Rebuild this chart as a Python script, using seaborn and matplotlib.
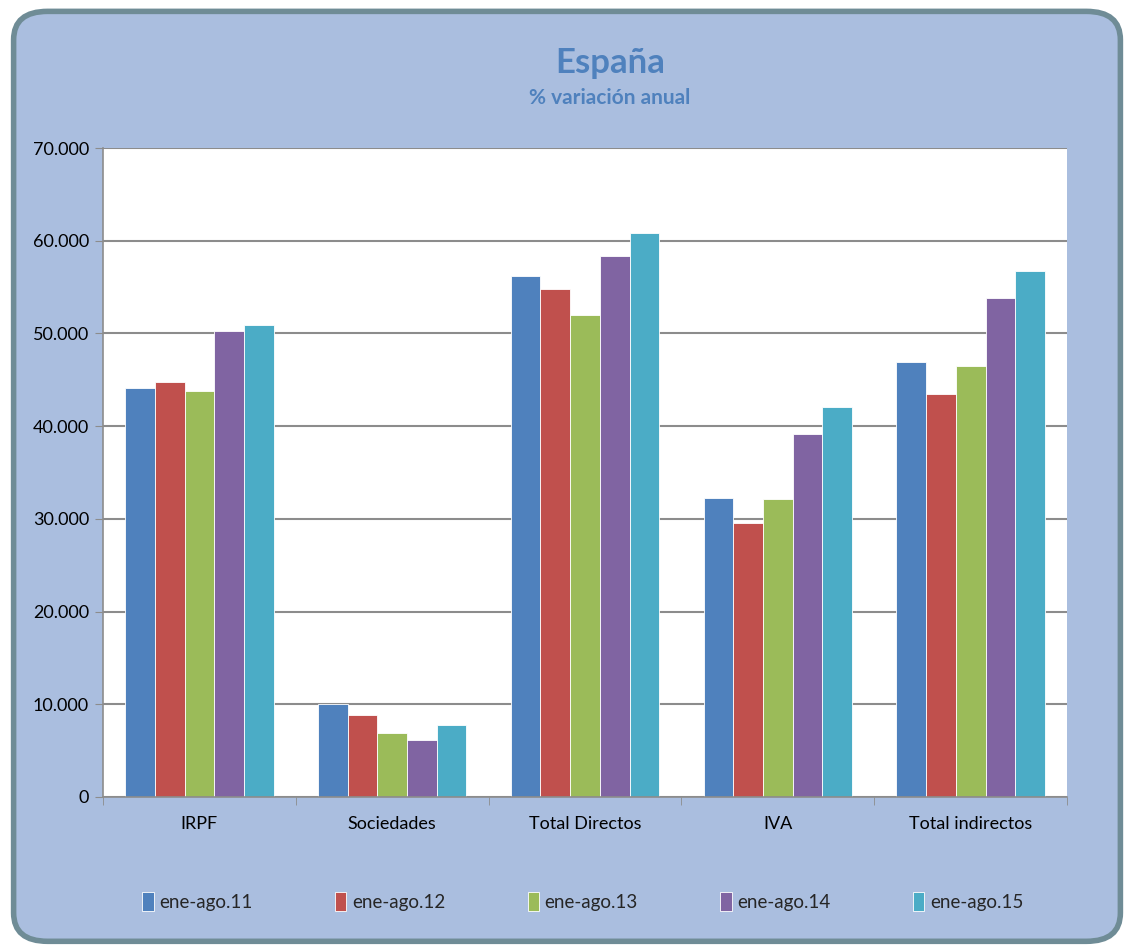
import pandas as pd
import seaborn as sns
import matplotlib.pyplot as plt
from matplotlib.patches import FancyBboxPatch
from matplotlib.ticker import FuncFormatter, FixedLocator

# Datos (miles)
categorias = ['IRPF', 'Sociedades', 'Total Directos', 'IVA', 'Total indirectos']
periodos = ['ene-ago.11', 'ene-ago.12', 'ene-ago.13', 'ene-ago.14', 'ene-ago.15']
v11 = [44100, 10050, 56200, 32300, 46950]
v12 = [44750, 8850, 54800, 29600, 43500]
v13 = [43800, 6950, 52000, 32100, 46450]
v14 = [50300, 6100, 58300, 39100, 53850]
v15 = [50900, 7800, 60800, 42100, 56750]
colores = ['#4F81BD', '#C0504D', '#9BBB59', '#8064A2', '#4BACC6']

rows = []
for periodo, vals in zip(periodos, [v11, v12, v13, v14, v15]):
    for cat, v in zip(categorias, vals):
        rows.append({'categoria': cat, 'periodo': periodo, 'valor': v})
df = pd.DataFrame(rows)

sns.set_style('white')
plt.rcParams['font.family'] = ['Lato', 'DejaVu Sans']

fig = plt.figure(figsize=(11.34, 9.47), dpi=100)
fig.patch.set_facecolor('white')

# Marco redondeado de fondo
marco = FancyBboxPatch((0.012, 0.006), 0.976, 0.982,
                       boxstyle='round,pad=0,rounding_size=0.03',
                       transform=fig.transFigure, facecolor='#AABEDF',
                       edgecolor='#6F8C96', linewidth=4, zorder=-10)
fig.patches.append(marco)

ax = fig.add_axes([0.0908, 0.1584, 0.8502, 0.6853])
sns.barplot(data=df, x='categoria', y='valor', hue='periodo', palette=colores,
            width=0.77, gap=0, saturation=1, edgecolor='white', linewidth=0.6,
            ax=ax, legend=True)

ax.set_facecolor('white')
ax.set_ylim(0, 70000)
ax.set_xlim(-0.5, 4.5)
ax.set_yticks(range(0, 70001, 10000))
ax.yaxis.set_major_formatter(FuncFormatter(lambda v, p: '0' if v == 0 else f'{int(v):,}'.replace(',', '.')))
ax.grid(axis='y', color='#8C8C8C', linewidth=1.5)
ax.set_axisbelow(True)
for s in ['top', 'right']:
    ax.spines[s].set_visible(False)
for s in ['left', 'bottom']:
    ax.spines[s].set_color('#8C8C8C')
    ax.spines[s].set_linewidth(1.2)

ax.tick_params(axis='y', length=6, color='#8C8C8C', labelsize=13, pad=4, labelcolor='black', left=True)
ax.tick_params(axis='x', which='major', length=0, labelsize=13, pad=14, labelcolor='black')
ax.xaxis.set_minor_locator(FixedLocator([-0.5, 0.5, 1.5, 2.5, 3.5, 4.5]))
ax.tick_params(axis='x', which='minor', length=6, color='#8C8C8C', bottom=True)
ax.set_xlabel('')
ax.set_ylabel('')

fig.text(0.538, 0.933, 'España', ha='center', va='center', fontsize=25,
         fontweight='bold', color='#4F81BD')
fig.text(0.538, 0.897, '% variación anual', ha='center', va='center', fontsize=15,
         fontweight='bold', color='#4F81BD')

h, l = ax.get_legend_handles_labels()
ax.get_legend().remove()
fig.legend(h, l, loc='center', bbox_to_anchor=(0.514, 0.048), ncol=5, frameon=False,
           fontsize=13.5, handlelength=0.6, handleheight=1.2, handletextpad=0.3,
           columnspacing=4.4)

plt.savefig('out.png', dpi=100)
